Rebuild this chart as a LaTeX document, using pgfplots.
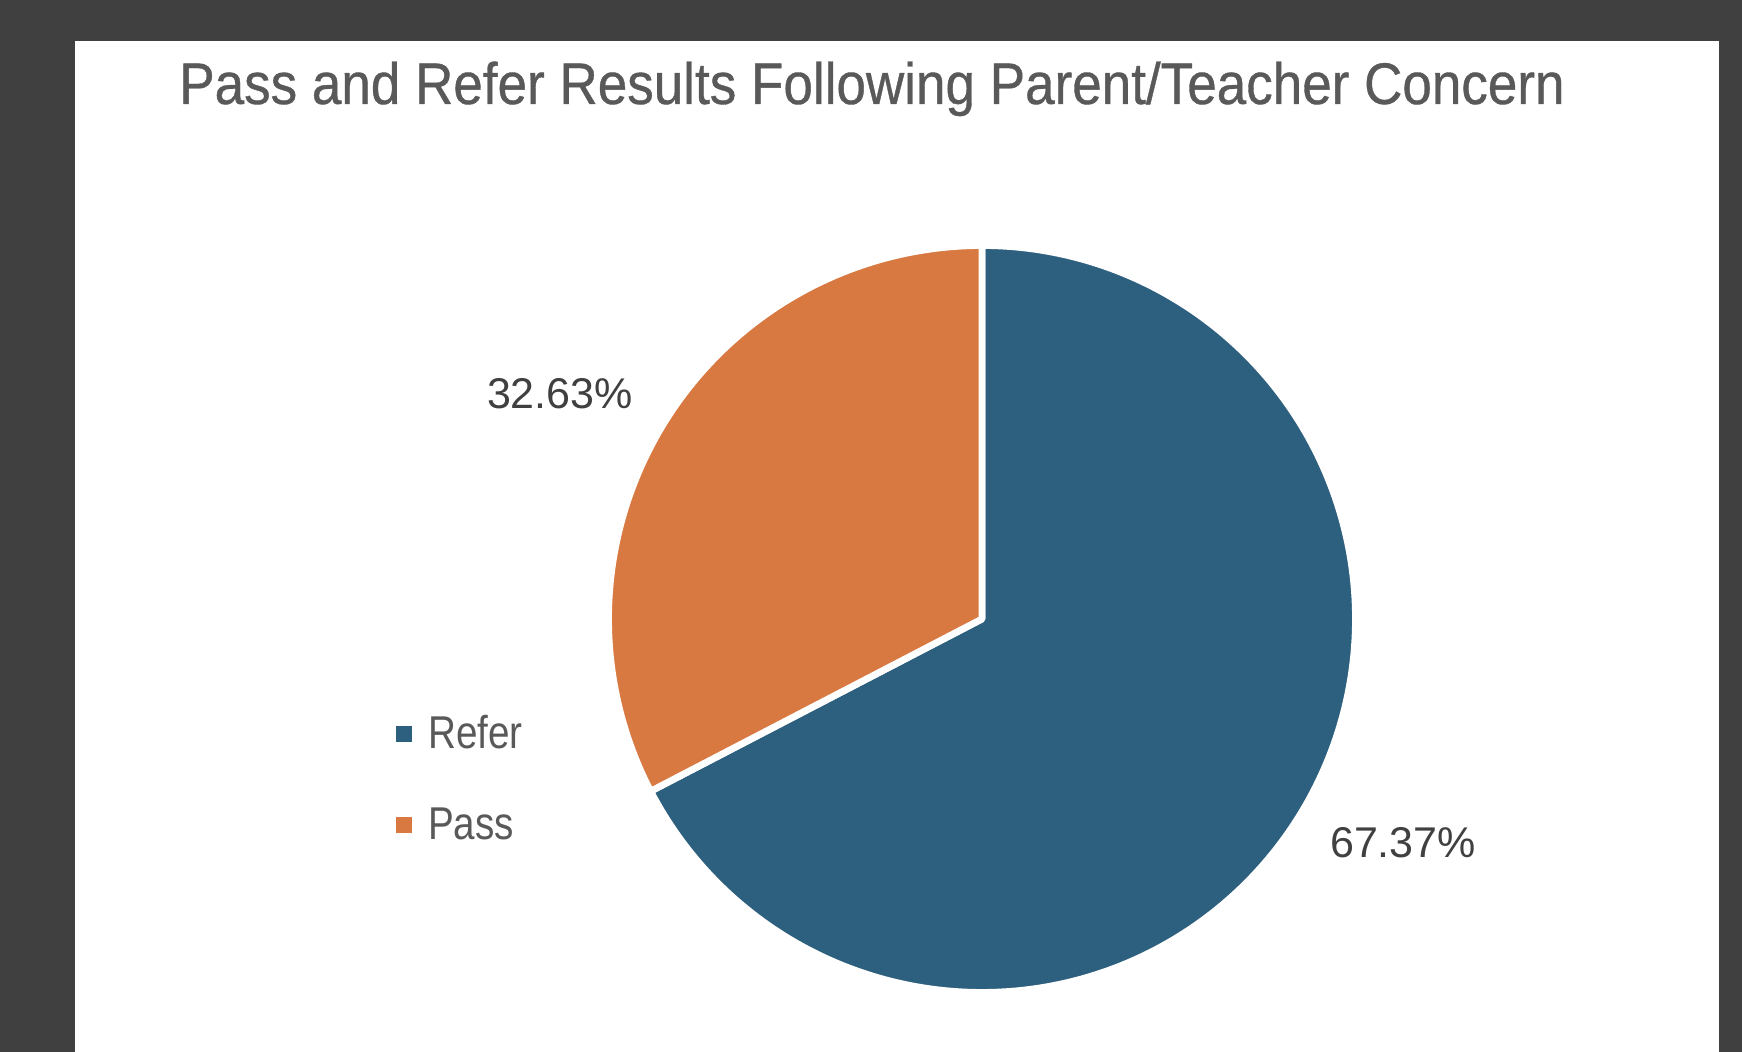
\documentclass[border=0pt]{standalone}
\usepackage{fontspec}
\setmainfont{Liberation Sans}
\newfontfamily\narrowfont[FakeStretch=0.84]{Liberation Sans}
\newfontfamily\titlefont[FakeStretch=0.905, FakeBold=0.6]{Liberation Sans}
\usepackage{pgfplots}
\pgfplotsset{compat=1.18}
\definecolor{referblue}{RGB}{45,95,126}
\definecolor{passorange}{RGB}{217,121,66}
\definecolor{bgdark}{RGB}{64,64,64}
\definecolor{titlegray}{RGB}{89,89,89}
\definecolor{labelgray}{RGB}{64,64,64}
% data (percent)
\def\refer{67.37}
\def\pass{32.63}
\begin{document}
\begin{tikzpicture}
\fill[bgdark] (0,0) rectangle (871pt,526pt);
\fill[white] (37.5pt,0) rectangle (859.5pt,505.5pt);
\pgfmathsetmacro{\splitangle}{90-3.6*\refer}
\pgfmathsetmacro{\passend}{\splitangle-3.6*\pass}
\begin{axis}[
  at={(0,0)}, anchor=south west,
  width=871pt, height=526pt, scale only axis,
  xmin=0, xmax=1742, ymin=0, ymax=1052,
  hide axis, clip=false,
  legend style={at={(0.2273,0.2595)}, anchor=west, draw=none, fill=none,
    inner sep=0pt, row sep=28pt,
    font=\narrowfont\fontsize{23}{23}\selectfont, text=titlegray,
    nodes={inner sep=0pt, outer sep=0pt}},
  legend cell align=left,
]
\addplot[fill=referblue, draw=white, line width=3.4pt, line join=round,
  domain=\splitangle:90, samples=240, forget plot]
  ({982+373.5*cos(x)},{433+373.5*sin(x)}) -- (axis cs:982,433) -- cycle;
\addplot[fill=passorange, draw=white, line width=3.4pt, line join=round,
  domain=\passend:\splitangle, samples=140, forget plot]
  ({982+373.5*cos(x)},{433+373.5*sin(x)}) -- (axis cs:982,433) -- cycle;
\addlegendimage{legend image code/.code={\fill[referblue] (0pt,-3.75pt) rectangle (7.5pt,3.75pt);}}
\addlegendentry{\hspace{8pt}Refer}
\addlegendimage{legend image code/.code={\fill[passorange] (0pt,-3.75pt) rectangle (7.5pt,3.75pt);}}
\addlegendentry{\hspace{8pt}Pass}
\node[font=\fontsize{21.5}{21.5}\selectfont, text=labelgray] at (axis cs:560,658) {\pass\%};
\node[font=\fontsize{21.5}{21.5}\selectfont, text=labelgray] at (axis cs:1403,209) {\refer\%};
\node[anchor=base, font=\titlefont\fontsize{29.3}{29.3}\selectfont, text=titlegray] at (axis cs:872,948) {Pass and Refer Results Following Parent/Teacher Concern};
\end{axis}
\end{tikzpicture}
\end{document}
